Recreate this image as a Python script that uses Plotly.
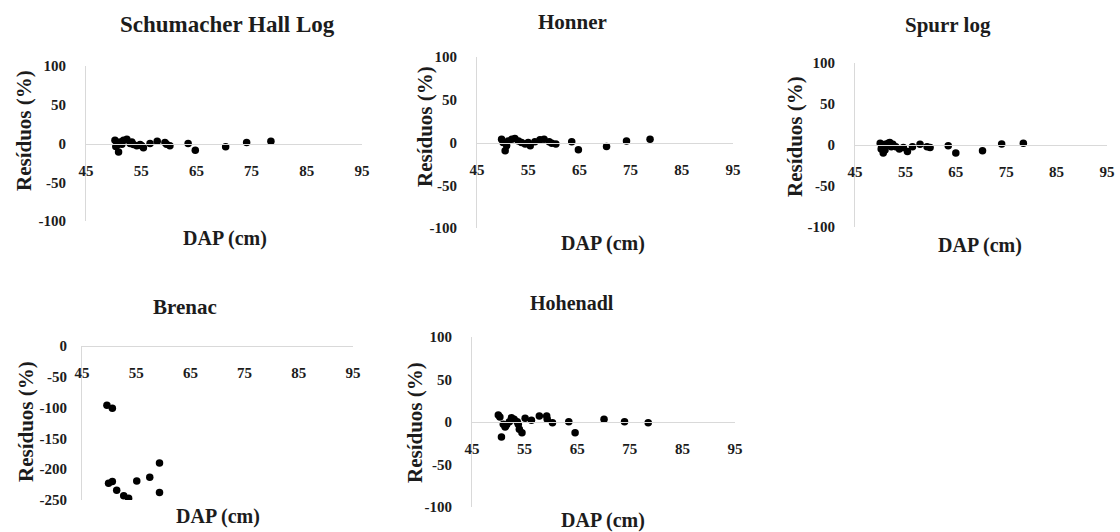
import plotly.graph_objects as go

# ---------------- data ----------------
titles = ["Schumacher Hall Log", "Honner", "Spurr log", "Brenac", "Hohenadl"]
x_title = "DAP (cm)"
y_title = "Resíduos (%)"
x_ticks = [45, 55, 65, 75, 85, 95]
y_ticks_std = [-100, -50, 0, 50, 100]
y_ticks_brenac = [-250, -200, -150, -100, -50, 0]

schumacher_dap = [50.25, 50.4, 50.6, 50.9, 51.2, 51.5, 51.8, 52.4, 53.0, 53.3, 53.6, 54.2, 54.8,
                  55.1, 55.4, 56.6, 57.9, 59.3, 59.6, 60.2, 63.5, 64.8, 70.3, 74.1, 78.5]
schumacher_res = [4.3, -4.0, -2.2, -10.9, 2.0, -1.0, 4.3, 5.6, 0.0, 2.0, -1.3, -3.0, -1.3,
                  -3.0, -5.6, 0.0, 3.0, 1.3, -1.0, -3.0, 0.0, -8.7, -4.3, 1.3, 3.0]

honner_dap = [49.8, 50.1, 50.5, 50.8, 51.1, 51.8, 52.4, 53.1, 53.7, 54.4, 55.0, 55.4,
              56.3, 57.3, 58.1, 59.1, 59.6, 60.4, 63.5, 64.8, 70.3, 74.2, 78.8]
honner_res = [3.9, 0.0, -9.7, -3.9, 1.9, 3.9, 4.7, 1.9, 0.0, -1.9, 0.0, -3.9,
              0.8, 3.1, 3.9, 0.8, -0.8, -1.9, 0.8, -8.5, -4.7, 1.9, 3.9]

spurr_dap = [50.0, 50.2, 50.3, 50.6, 50.95, 51.0, 51.3, 51.6, 51.9, 52.2, 52.5, 53.1, 53.8,
             54.6, 55.4, 56.4, 57.9, 59.3, 59.9, 63.5, 65.0, 70.3, 74.1, 78.4]
spurr_res = [2.0, -5.0, -2.0, -9.9, -6.0, 1.0, 0.0, 2.0, 3.2, -2.0, 0.8, -2.0, -4.8,
             -3.2, -7.9, -2.0, 0.8, -2.0, -3.2, -0.8, -9.9, -7.1, 1.2, 2.0]

brenac_dap = [49.6, 50.6, 49.9, 50.6, 51.4, 52.7, 53.6, 55.1, 57.5, 59.3, 59.3]
brenac_res = [-96, -101, -223, -220, -234, -243, -247, -219, -213, -190, -238]

hohenadl_dap = [50.0, 50.3, 50.6, 50.95, 51.3, 51.6, 52.1, 52.5, 53.0, 53.6, 53.8, 54.0,
                54.5, 55.1, 56.3, 57.8, 59.2, 59.3, 60.3, 63.4, 64.6, 70.1, 74.0, 78.5]
hohenadl_res = [8.2, 5.9, -17.6, -2.7, -5.9, -3.5, 0.4, 5.1, 3.1, 0.4, -2.7, -8.6,
                -12.5, 4.3, 2.0, 7.1, 7.1, 3.1, -0.8, 0.4, -12.5, 3.1, 0.4, -0.8]

series = [
    (schumacher_dap, schumacher_res, y_ticks_std),
    (honner_dap, honner_res, y_ticks_std),
    (spurr_dap, spurr_res, y_ticks_std),
    (brenac_dap, brenac_res, y_ticks_brenac),
    (hohenadl_dap, hohenadl_res, y_ticks_std),
]

# ---------------- layout (pixel geometry) ----------------
W, H = 1120, 532
# plot area: x0, x1, ytop, ybottom
areas = [(86, 362, 66, 221), (477, 733, 57, 228), (855, 1107, 63, 227),
         (82, 353, 346, 500), (472, 735, 337, 507)]
title_pos = [(227, 25), (572, 22), (948, 25), (185, 307), (572, 303)]
title_size = [23, 21, 21, 21, 20]
ytitle_pos = [(24, 131), (425, 127), (795, 137), (26, 422), (415, 423)]
xtitle_pos = [(225, 238), (603, 243), (980, 246), (218, 516), (603, 520)]
ytick_gap = [16, 16, 16, 11, 16]

FONT = "Liberation Serif, Times New Roman, serif"
TXT = "#1c1c1c"
GRID = "#d9d9d9"

fx = lambda px: px / W
fy = lambda py: 1 - py / H

fig = go.Figure()
layout = dict(
    template="none",
    width=W, height=H, margin=dict(l=0, r=0, t=0, b=0, autoexpand=False),
    paper_bgcolor="white", plot_bgcolor="white", showlegend=False,
    font=dict(family=FONT, color=TXT),
)
annotations = []

for i, ((xs, ys, yt), (x0, x1, yt0, yb0)) in enumerate(zip(series, areas)):
    n = "" if i == 0 else str(i + 1)
    fig.add_trace(go.Scatter(
        x=xs, y=ys, mode="markers", xaxis="x" + n, yaxis="y" + n,
        marker=dict(color="black", size=7.5, line=dict(width=0)), hoverinfo="skip",
    ))
    ymin, ymax = min(yt), max(yt)
    ydom = [fy(yb0), fy(yt0)]
    zero_frac = ydom[0] + (0 - ymin) / (ymax - ymin) * (ydom[1] - ydom[0])
    layout["xaxis" + n] = dict(
        domain=[fx(x0), fx(x1)], range=[45, 95], anchor="free", position=zero_frac,
        side="bottom", tickvals=x_ticks, ticktext=["<b>%d</b>" % v for v in x_ticks],
        showline=True, linecolor=GRID, linewidth=1, showgrid=False, zeroline=False,
        ticks="outside", ticklen=13, tickcolor="rgba(0,0,0,0)", automargin=False,
        tickfont=dict(family=FONT, size=15, color=TXT), fixedrange=True,
    )
    layout["yaxis" + n] = dict(
        domain=ydom, range=[ymin, ymax], anchor="x" + n,
        tickvals=yt, ticktext=["<b>%d</b>" % v for v in yt],
        showline=True, linecolor=GRID, linewidth=1, showgrid=False, zeroline=False,
        ticks="outside", ticklen=ytick_gap[i], tickcolor="rgba(0,0,0,0)", automargin=False,
        tickfont=dict(family=FONT, size=15, color=TXT), fixedrange=True,
    )
    tx, ty = title_pos[i]
    annotations.append(dict(text="<b>%s</b>" % titles[i], x=fx(tx), y=fy(ty), xref="paper", yref="paper",
                            showarrow=False, xanchor="center", yanchor="middle",
                            font=dict(family=FONT, size=title_size[i], color=TXT)))
    ax_, ay_ = ytitle_pos[i]
    annotations.append(dict(text="<b>%s</b>" % y_title, x=fx(ax_), y=fy(ay_), xref="paper", yref="paper",
                            showarrow=False, xanchor="center", yanchor="middle", textangle=-90,
                            font=dict(family=FONT, size=21, color=TXT)))
    bx, by = xtitle_pos[i]
    annotations.append(dict(text="<b>%s</b>" % x_title, x=fx(bx), y=fy(by), xref="paper", yref="paper",
                            showarrow=False, xanchor="center", yanchor="middle",
                            font=dict(family=FONT, size=20, color=TXT)))

layout["annotations"] = annotations
fig.update_layout(**layout)
fig.write_html("out.html", config={"displayModeBar": False},
               post_script="document.body.style.margin='0px';document.body.style.overflow='hidden';")
